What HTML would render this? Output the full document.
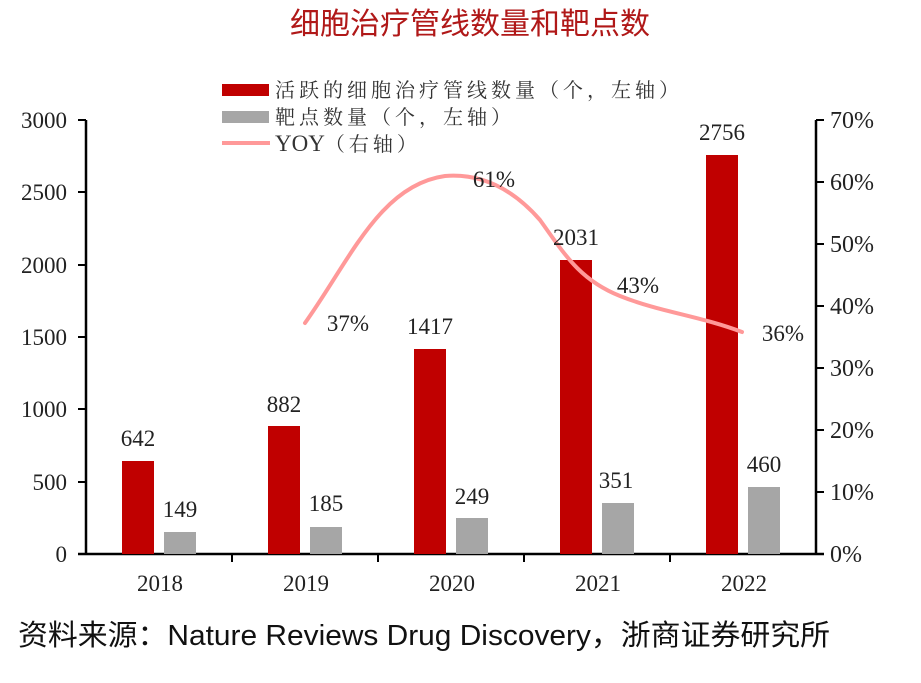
<!DOCTYPE html>
<html><head><meta charset="utf-8"><style>
body{margin:0;background:#fff;width:921px;height:683px;overflow:hidden}
svg{display:block}
.s{font-family:"Liberation Serif","Noto Serif CJK SC",serif;font-size:23px;fill:#222}
.p{font-family:"Liberation Serif","Noto Serif CJK SC",serif;font-size:24px;fill:#222}
.c{font-family:"Liberation Serif","Noto Serif CJK SC",serif;font-size:20px;fill:#333;letter-spacing:4px}
</style></head><body>
<svg width="921" height="683" viewBox="0 0 921 683">
<text x="470" y="34" text-anchor="middle" font-family="'Liberation Sans','Noto Sans CJK SC',sans-serif" font-size="30" fill="#b01818">细胞治疗管线数量和靶点数</text>
<rect x="222" y="84" width="47" height="12" fill="#c00000"/>
<text class="c" x="275" y="97">活跃的细胞治疗管线数量（个，左轴）</text>
<rect x="222" y="111" width="47" height="12" fill="#a6a6a6"/>
<text class="c" x="275" y="124">靶点数量（个，左轴）</text>
<line x1="222" y1="143" x2="270" y2="143" stroke="#ff9999" stroke-width="4"/>
<text class="c" x="275" y="151"><tspan font-size="23" letter-spacing="0">YOY</tspan>（右轴）</text>
<g stroke="#000" stroke-width="2.5" fill="none">
<line x1="86" y1="120" x2="86" y2="555"/>
<line x1="816" y1="120" x2="816" y2="555"/>
<line x1="78" y1="554" x2="824" y2="554"/>
</g>
<g stroke="#000" stroke-width="2">
<line x1="78" y1="120" x2="86" y2="120"/><line x1="78" y1="192" x2="86" y2="192"/><line x1="78" y1="265" x2="86" y2="265"/><line x1="78" y1="337" x2="86" y2="337"/><line x1="78" y1="409" x2="86" y2="409"/><line x1="78" y1="482" x2="86" y2="482"/>
<line x1="816" y1="120" x2="824" y2="120"/><line x1="816" y1="182" x2="824" y2="182"/><line x1="816" y1="244" x2="824" y2="244"/><line x1="816" y1="306" x2="824" y2="306"/><line x1="816" y1="368" x2="824" y2="368"/><line x1="816" y1="430" x2="824" y2="430"/><line x1="816" y1="492" x2="824" y2="492"/>
<line x1="232" y1="554" x2="232" y2="562"/><line x1="378" y1="554" x2="378" y2="562"/><line x1="524" y1="554" x2="524" y2="562"/><line x1="670" y1="554" x2="670" y2="562"/>
</g>
<g class="s" text-anchor="end">
<text x="67" y="128">3000</text><text x="67" y="200">2500</text><text x="67" y="273">2000</text><text x="67" y="345">1500</text><text x="67" y="417">1000</text><text x="67" y="490">500</text><text x="67" y="562">0</text>
</g>
<g class="p">
<text x="830" y="128">70%</text><text x="830" y="190">60%</text><text x="830" y="252">50%</text><text x="830" y="314">40%</text><text x="830" y="376">30%</text><text x="830" y="438">20%</text><text x="830" y="500">10%</text><text x="830" y="562">0%</text>
</g>
<g fill="#c00000">
<rect x="122" y="461" width="32" height="93"/>
<rect x="268" y="426" width="32" height="128"/>
<rect x="414" y="349" width="32" height="205"/>
<rect x="560" y="260" width="32" height="294"/>
<rect x="706" y="155" width="32" height="399"/>
</g>
<g fill="#a6a6a6">
<rect x="164" y="532" width="32" height="22"/>
<rect x="310" y="527" width="32" height="27"/>
<rect x="456" y="518" width="32" height="36"/>
<rect x="602" y="503" width="32" height="51"/>
<rect x="748" y="487" width="32" height="67"/>
</g>
<path d="M305,323 C350,260 380,185 445,176 C470,174 505,180 540,220 C565,255 580,280 620,296 C660,312 700,316 742,332" fill="none" stroke="#ff9999" stroke-width="4" stroke-linecap="round"/>
<g class="s" text-anchor="middle">
<text x="138" y="446">642</text><text x="180" y="517">149</text>
<text x="284" y="412">882</text><text x="326" y="511">185</text>
<text x="430" y="334">1417</text><text x="472" y="504">249</text>
<text x="576" y="245">2031</text><text x="616" y="488">351</text>
<text x="722" y="140">2756</text><text x="764" y="472">460</text>
<text x="348" y="331">37%</text><text x="494" y="187">61%</text>
<text x="638" y="293">43%</text><text x="783" y="341">36%</text>
<text x="160" y="591">2018</text><text x="306" y="591">2019</text><text x="452" y="591">2020</text><text x="598" y="591">2021</text><text x="744" y="591">2022</text>
</g>
<text x="18" y="645" font-family="'Liberation Sans','Noto Sans CJK SC',sans-serif" font-size="29" fill="#111" textLength="812" lengthAdjust="spacingAndGlyphs">资料来源：Nature Reviews Drug Discovery，浙商证券研究所</text>
</svg>
</body></html>
